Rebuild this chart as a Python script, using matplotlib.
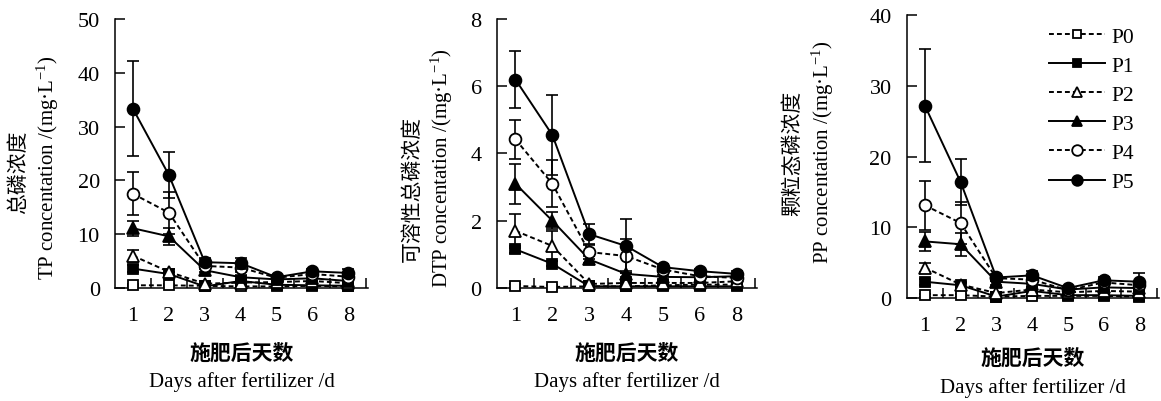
import numpy as np
import matplotlib
matplotlib.use('Agg')
import matplotlib.pyplot as plt
from matplotlib.ticker import FixedLocator, NullFormatter

plt.rcParams['font.family'] = ['Liberation Serif', 'Noto Sans CJK SC']
plt.rcParams['mathtext.fontset'] = 'custom'
plt.rcParams['mathtext.rm'] = 'Liberation Serif'
plt.rcParams['mathtext.it'] = 'Liberation Serif:italic'

days = ['1', '2', '3', '4', '5', '6', '8']
groups = ['P0', 'P1', 'P2', 'P3', 'P4', 'P5']

# total P, mg/L  (rows P0..P5, columns days)
tp_mean = [[0.5, 0.5, 0.4, 0.3, 0.3, 0.4, 0.3],
           [3.6, 2.6, 0.3, 1.3, 0.6, 0.5, 0.4],
           [6.0, 3.0, 0.8, 1.0, 1.1, 1.3, 0.9],
           [11.1, 9.6, 3.3, 2.0, 1.6, 1.8, 1.3],
           [17.5, 14.0, 4.1, 3.8, 1.9, 2.6, 2.1],
           [33.3, 21.0, 4.8, 4.6, 2.0, 3.1, 2.8]]
tp_sd = [[0.2, 0.2, 0.2, 0.2, 0.2, 0.2, 0.2],
         [0.6, 0.4, 0.1, 0.3, 0.2, 0.2, 0.2],
         [1.1, 0.6, 0.3, 0.4, 0.5, 0.5, 0.3],
         [1.4, 1.6, 0.4, 0.5, 0.4, 0.5, 0.4],
         [4.0, 3.9, 0.6, 0.8, 0.4, 0.6, 0.5],
         [8.8, 4.3, 0.8, 1.0, 0.4, 0.4, 0.8]]

# dissolved total P
dtp_mean = [[0.06, 0.03, 0.05, 0.05, 0.08, 0.10, 0.10],
            [1.15, 0.72, 0.05, 0.05, 0.05, 0.05, 0.05],
            [1.70, 1.25, 0.12, 0.15, 0.15, 0.15, 0.20],
            [3.10, 2.00, 0.85, 0.42, 0.33, 0.32, 0.35],
            [4.42, 3.10, 1.07, 0.95, 0.55, 0.35, 0.30],
            [6.20, 4.55, 1.60, 1.25, 0.62, 0.50, 0.42]]
dtp_sd = [[0.05, 0.05, 0.05, 0.05, 0.05, 0.05, 0.05],
          [0.10, 0.08, 0.02, 0.02, 0.02, 0.02, 0.02],
          [0.50, 0.45, 0.05, 0.05, 0.05, 0.10, 0.05],
          [0.60, 0.25, 0.10, 0.10, 0.05, 0.05, 0.05],
          [0.57, 0.70, 0.20, 0.50, 0.08, 0.06, 0.08],
          [0.85, 1.20, 0.30, 0.80, 0.08, 0.06, 0.10]]

# particulate P
pp_mean = [[0.4, 0.4, 0.2, 0.3, 0.3, 0.3, 0.2],
           [2.3, 1.8, 0.2, 1.0, 0.4, 0.4, 0.3],
           [4.3, 1.9, 0.7, 1.2, 0.8, 1.0, 0.9],
           [8.0, 7.6, 2.3, 2.0, 1.2, 1.5, 1.4],
           [13.1, 10.6, 2.8, 2.6, 1.1, 2.2, 1.8],
           [27.2, 16.4, 2.9, 3.2, 1.4, 2.5, 2.3]]
pp_sd = [[0.2, 0.2, 0.2, 0.2, 0.2, 0.2, 0.2],
         [0.4, 0.3, 0.1, 0.3, 0.2, 0.2, 0.2],
         [0.6, 0.4, 0.2, 0.4, 0.3, 0.4, 0.3],
         [1.3, 1.6, 0.4, 0.4, 0.3, 0.4, 0.3],
         [3.5, 3.0, 0.4, 0.6, 0.3, 0.5, 0.4],
         [8.0, 3.3, 0.5, 0.6, 0.3, 0.5, 1.2]]

markers = ['s', 's', '^', '^', 'o', 'o']
msizes = [7, 7, 8, 8, 8.5, 8.5]
filled = [False, True, False, True, False, True]
dash = (0, (2.5, 1.6))
styles = [dash, '-', dash, '-', dash, '-']

cn_font = ['Noto Sans CJK SC']

# mean, sd, ymax, ystep, axes rect, cn label, en label, cn dx, en dx, cn y, en y, xlabel offsets
panels = [
    (tp_mean, tp_sd, 50, 10, [0.0991, 0.2811, 0.2179, 0.6692],
     '总磷浓度', 'TP concentation /(mg·L$^{-1}$)', -97, -67, 0.435, 0.45, (-64, -93)),
    (dtp_mean, dtp_sd, 8, 2, [0.4281, 0.2811, 0.2239, 0.6692],
     '可溶性总磷浓度', 'DTP concentation /(mg·L$^{-1}$)', -85, -55, 0.372, 0.45, (-64, -93)),
    (pp_mean, pp_sd, 40, 10, [0.7812, 0.2562, 0.2171, 0.704],
     '颗粒态磷浓度', 'PP concentation /(mg·L$^{-1}$)', -115, -84, 0.516, 0.519, (-59, -89)),
]

fig = plt.figure(figsize=(11.61, 4.02), dpi=100)
x = np.arange(len(days))

for k, (mean, sd, ymax, ystep, rect, cn, en, cdx, edx, cy, ey, xoff) in enumerate(panels):
    ax = fig.add_axes(rect)
    for i in range(len(groups)):
        eb = ax.errorbar(x, mean[i], yerr=sd[i], fmt='none', ecolor='black',
                         elinewidth=1.2, capsize=4, capthick=1.2, zorder=2 + i)
        for art in eb.get_children():
            art.set_clip_on(False)
        ax.plot(x, mean[i], color='black', lw=1.4, ls=styles[i],
                marker=markers[i], ms=msizes[i], mec='black', mew=1.3,
                mfc='black' if filled[i] else 'white',
                label=groups[i], zorder=2.5 + i, clip_on=False)
    ax.set_xlim(-0.5, 6.55)
    ax.set_ylim(0, ymax)
    ax.set_yticks(np.arange(0, ymax + 0.01, ystep))
    ax.set_xticks(x)
    ax.set_xticklabels(days)
    ax.xaxis.set_minor_locator(FixedLocator(list(x + 0.5)))
    ax.xaxis.set_minor_formatter(NullFormatter())
    ax.tick_params(axis='x', which='major', length=0, pad=13, labelsize=16)
    ax.tick_params(axis='x', which='minor', direction='in', length=7, width=1.1)
    ax.tick_params(axis='y', direction='in', length=7, width=1.1, pad=11, labelsize=16)
    for s in ['top', 'right']:
        ax.spines[s].set_visible(False)
    for s in ['left', 'bottom']:
        ax.spines[s].set_linewidth(1.1)
        ax.spines[s].set_zorder(1)
    ax.annotate(cn, xy=(0, cy), xycoords='axes fraction', xytext=(cdx, 0),
                textcoords='offset pixels', rotation=90, ha='center', va='center',
                fontsize=15, family=cn_font)
    ax.annotate(en, xy=(0, ey), xycoords='axes fraction', xytext=(edx, 0),
                textcoords='offset pixels', rotation=90, ha='center', va='center',
                fontsize=15)
    ax.annotate('施肥后天数', xy=(0.5, 0), xycoords='axes fraction', xytext=(0, xoff[0]),
                textcoords='offset pixels', ha='center', va='center',
                fontsize=15, fontweight='bold', family=cn_font)
    ax.annotate('Days after fertilizer /d', xy=(0.5, 0), xycoords='axes fraction',
                xytext=(0, xoff[1]), textcoords='offset pixels', ha='center',
                va='center', fontsize=15)
    if k == 2:
        ax.legend(loc='upper left', bbox_to_anchor=(0.528, 0.99), frameon=False,
                  fontsize=15.5, handlelength=2.6, handletextpad=0.3,
                  labelspacing=0.42, markerscale=0.9, borderaxespad=0)

fig.savefig('out.png', dpi=100)
